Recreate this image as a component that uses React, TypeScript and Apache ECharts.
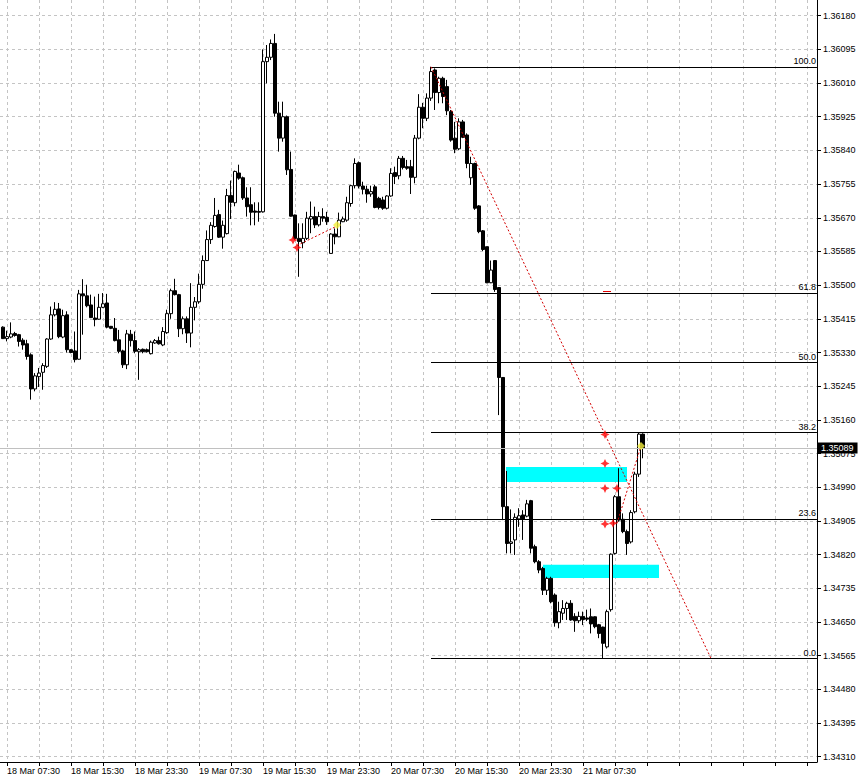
import React, { useEffect, useRef } from 'react';
import * as echarts from 'echarts';

// ---- data (bar index k: 0 = 18 Mar 07:30, one bar = 30 min) ----
const START_K = -1;
const OPEN = [
  1.35394, 1.35365, 1.35369, 1.35378, 1.35375, 1.35361, 1.35352, 1.35324, 1.35238, 1.35269,
  1.35280, 1.35295, 1.35364, 1.35425, 1.35440, 1.35369, 1.35425, 1.35337, 1.35334, 1.35313,
  1.35478, 1.35473, 1.35450, 1.35417, 1.35414, 1.35444, 1.35455, 1.35396, 1.35391, 1.35362,
  1.35334, 1.35299, 1.35376, 1.35360, 1.35332, 1.35338, 1.35337, 1.35327, 1.35354, 1.35360,
  1.35349, 1.35380, 1.35428, 1.35486, 1.35476, 1.35390, 1.35415, 1.35379, 1.35444, 1.35458,
  1.35502, 1.35562, 1.35615, 1.35648, 1.35678, 1.35621, 1.35630, 1.35726, 1.35708, 1.35783,
  1.35771, 1.35720, 1.35703, 1.35687, 1.35686, 1.35685, 1.36064, 1.36075, 1.36110, 1.35934,
  1.35871, 1.35925, 1.35792, 1.35677, 1.35618, 1.35607, 1.35618, 1.35667, 1.35673, 1.35652,
  1.35673, 1.35671, 1.35580, 1.35629, 1.35622, 1.35660, 1.35664, 1.35706, 1.35751, 1.35809,
  1.35750, 1.35742, 1.35730, 1.35748, 1.35719, 1.35715, 1.35694, 1.35725, 1.35784, 1.35776,
  1.35820, 1.35799, 1.35799, 1.35772, 1.35871, 1.35949, 1.35921, 1.35972, 1.36043, 1.35986,
  1.36022, 1.36001, 1.35938, 1.35871, 1.35844, 1.35912, 1.35879, 1.35771, 1.35807, 1.35700,
  1.35637, 1.35597, 1.35506, 1.35562, 1.35494, 1.35267, 1.34941, 1.34848, 1.34857, 1.34910,
  1.34920, 1.34917, 1.34956, 1.34840, 1.34802, 1.34785, 1.34730, 1.34760, 1.34718, 1.34648,
  1.34672, 1.34684, 1.34697, 1.34664, 1.34653, 1.34664, 1.34660, 1.34663, 1.34663, 1.34643,
  1.34637, 1.34587, 1.34681, 1.34823, 1.34966, 1.34909, 1.34878, 1.34852, 1.34928, 1.35023,
  1.35124,
];
const HIGH = [
  1.35396, 1.35385, 1.35406, 1.35382, 1.35377, 1.35366, 1.35362, 1.35328, 1.35278, 1.35291,
  1.35303, 1.35366, 1.35446, 1.35457, 1.35455, 1.35438, 1.35434, 1.35338, 1.35383, 1.35488,
  1.35515, 1.35501, 1.35476, 1.35471, 1.35478, 1.35480, 1.35478, 1.35397, 1.35417, 1.35387,
  1.35337, 1.35387, 1.35387, 1.35383, 1.35341, 1.35340, 1.35340, 1.35360, 1.35364, 1.35370,
  1.35394, 1.35438, 1.35491, 1.35516, 1.35478, 1.35421, 1.35421, 1.35505, 1.35470, 1.35529,
  1.35575, 1.35638, 1.35659, 1.35720, 1.35690, 1.35663, 1.35743, 1.35764, 1.35789, 1.35804,
  1.35774, 1.35747, 1.35747, 1.35709, 1.35709, 1.36095, 1.36106, 1.36120, 1.36134, 1.35963,
  1.35963, 1.35928, 1.35837, 1.35678, 1.35656, 1.35656, 1.35685, 1.35711, 1.35698, 1.35685,
  1.35694, 1.35685, 1.35631, 1.35643, 1.35683, 1.35673, 1.35723, 1.35753, 1.35820, 1.35812,
  1.35761, 1.35751, 1.35751, 1.35753, 1.35723, 1.35723, 1.35727, 1.35795, 1.35799, 1.35826,
  1.35826, 1.35816, 1.35816, 1.35879, 1.35982, 1.35960, 1.35984, 1.36051, 1.36047, 1.36026,
  1.36026, 1.36018, 1.35942, 1.35912, 1.35921, 1.35917, 1.35883, 1.35824, 1.35809, 1.35702,
  1.35639, 1.35597, 1.35562, 1.35563, 1.35495, 1.35268, 1.35031, 1.34934, 1.34924, 1.34937,
  1.34932, 1.34958, 1.34958, 1.34845, 1.34806, 1.34789, 1.34764, 1.34764, 1.34722, 1.34701,
  1.34705, 1.34701, 1.34705, 1.34672, 1.34676, 1.34676, 1.34681, 1.34684, 1.34664, 1.34645,
  1.34638, 1.34681, 1.34823, 1.34970, 1.35038, 1.34924, 1.34883, 1.34932, 1.35029, 1.35128,
  1.35126,
];
const LOW = [
  1.35364, 1.35358, 1.35366, 1.35370, 1.35345, 1.35337, 1.35312, 1.35211, 1.35232, 1.35243,
  1.35236, 1.35291, 1.35362, 1.35421, 1.35366, 1.35366, 1.35330, 1.35328, 1.35305, 1.35312,
  1.35375, 1.35444, 1.35417, 1.35396, 1.35413, 1.35442, 1.35391, 1.35389, 1.35358, 1.35328,
  1.35291, 1.35288, 1.35345, 1.35328, 1.35261, 1.35328, 1.35330, 1.35325, 1.35352, 1.35350,
  1.35346, 1.35377, 1.35415, 1.35474, 1.35369, 1.35376, 1.35354, 1.35343, 1.35411, 1.35453,
  1.35491, 1.35561, 1.35604, 1.35645, 1.35619, 1.35592, 1.35628, 1.35667, 1.35699, 1.35766,
  1.35715, 1.35673, 1.35651, 1.35651, 1.35660, 1.35683, 1.36009, 1.36068, 1.35925, 1.35837,
  1.35862, 1.35778, 1.35673, 1.35614, 1.35521, 1.35593, 1.35614, 1.35631, 1.35644, 1.35648,
  1.35660, 1.35652, 1.35580, 1.35603, 1.35621, 1.35659, 1.35660, 1.35698, 1.35744, 1.35744,
  1.35729, 1.35708, 1.35723, 1.35694, 1.35691, 1.35690, 1.35691, 1.35723, 1.35755, 1.35767,
  1.35792, 1.35791, 1.35730, 1.35757, 1.35868, 1.35896, 1.35914, 1.35965, 1.35942, 1.35959,
  1.35959, 1.35929, 1.35862, 1.35833, 1.35841, 1.35871, 1.35795, 1.35753, 1.35690, 1.35631,
  1.35586, 1.35505, 1.35505, 1.35483, 1.35172, 1.34907, 1.34823, 1.34823, 1.34819, 1.34890,
  1.34857, 1.34914, 1.34823, 1.34798, 1.34773, 1.34718, 1.34718, 1.34697, 1.34638, 1.34634,
  1.34655, 1.34655, 1.34653, 1.34625, 1.34647, 1.34642, 1.34652, 1.34621, 1.34634, 1.34609,
  1.34558, 1.34583, 1.34676, 1.34820, 1.34903, 1.34874, 1.34819, 1.34848, 1.34924, 1.35016,
  1.35063,
];
const CLOSE = [
  1.35365, 1.35370, 1.35377, 1.35373, 1.35358, 1.35349, 1.35320, 1.35238, 1.35271, 1.35278,
  1.35297, 1.35364, 1.35425, 1.35439, 1.35370, 1.35423, 1.35337, 1.35330, 1.35312, 1.35478,
  1.35473, 1.35448, 1.35418, 1.35413, 1.35444, 1.35453, 1.35394, 1.35391, 1.35360, 1.35333,
  1.35299, 1.35377, 1.35360, 1.35333, 1.35337, 1.35332, 1.35332, 1.35356, 1.35360, 1.35352,
  1.35383, 1.35428, 1.35486, 1.35476, 1.35390, 1.35415, 1.35379, 1.35444, 1.35458, 1.35502,
  1.35562, 1.35615, 1.35651, 1.35676, 1.35621, 1.35651, 1.35726, 1.35709, 1.35787, 1.35770,
  1.35720, 1.35698, 1.35684, 1.35684, 1.35684, 1.36064, 1.36075, 1.36110, 1.35934, 1.35871,
  1.35925, 1.35791, 1.35674, 1.35618, 1.35610, 1.35618, 1.35669, 1.35673, 1.35652, 1.35673,
  1.35669, 1.35660, 1.35629, 1.35622, 1.35664, 1.35667, 1.35708, 1.35751, 1.35807, 1.35750,
  1.35742, 1.35730, 1.35736, 1.35696, 1.35696, 1.35694, 1.35725, 1.35782, 1.35774, 1.35820,
  1.35797, 1.35795, 1.35772, 1.35871, 1.35949, 1.35921, 1.35972, 1.36039, 1.35986, 1.36022,
  1.35976, 1.35940, 1.35866, 1.35843, 1.35912, 1.35873, 1.35807, 1.35807, 1.35694, 1.35635,
  1.35590, 1.35506, 1.35538, 1.35489, 1.35267, 1.34941, 1.34848, 1.34852, 1.34914, 1.34918,
  1.34910, 1.34948, 1.34836, 1.34802, 1.34781, 1.34730, 1.34760, 1.34701, 1.34648, 1.34676,
  1.34684, 1.34697, 1.34655, 1.34653, 1.34664, 1.34656, 1.34657, 1.34645, 1.34638, 1.34621,
  1.34596, 1.34676, 1.34821, 1.34966, 1.34907, 1.34878, 1.34848, 1.34926, 1.35023, 1.35124,
  1.35089,
];

const TIME_LABELS = [
  '18 Mar 07:30', '18 Mar 15:30', '18 Mar 23:30', '19 Mar 07:30', '19 Mar 15:30',
  '19 Mar 23:30', '20 Mar 07:30', '20 Mar 15:30', '20 Mar 23:30', '21 Mar 07:30',
];
const BARS_PER_LABEL = 16;
const BARS_PER_GRID = 8;

// price scale ticks
const TICK_MIN = 1.3431;
const TICK_MAX = 1.3618;
const TICK_STEP = 0.00085;

// Fibonacci retracement
const FIB_HIGH = 1.36051;
const FIB_LOW = 1.34558;
const FIB_START_K = 106;
const FIB_END_K = 176;
const FIB_LEVELS = [0, 23.6, 38.2, 50, 61.8, 100];

const LAST_PRICE = 1.35089;

// cyan zones: [kFrom, kTo, priceTop, priceBottom]
const ZONES = [
  [124.75, 155, 1.35041, 1.35003],
  [134, 163, 1.34794, 1.34761],
];
const RED_MARKS = [
  [71.5, 1.35614], [72.5, 1.35595],
  [149.5, 1.35123], [149.5, 1.3505], [149.5, 1.34987], [152.5, 1.34987],
  [149.5, 1.34897], [151.5, 1.34899],
];
const YELLOW_MARKS = [[82.5, 1.35652], [158.5, 1.35094]];
const RED_SEGMENTS = [
  [[72.5, 1.356], [82.25, 1.35648]],
  [[152.5, 1.34899], [158.5, 1.35094]],
];
const RED_DASH = [[149, 1.35485], [151, 1.35485]];

// ---- view ----
const X_MIN = -1.75;
const X_MAX = 202.5;
const Y_MIN = 1.342965;
const Y_MAX = 1.362196;
const FONT = 'Liberation Sans';
const GRID_COLOR = '#c4c4c4';

export default function App() {
  const ref = useRef<HTMLDivElement>(null);
  useEffect(() => {
    document.body.style.margin = '0';
    const chart = echarts.init(ref.current!, undefined, { renderer: 'svg', width: 864, height: 780 });

    const candles = OPEN.map((o, i) => [START_K + i, o, CLOSE[i], LOW[i], HIGH[i]]);
    const xEdge = X_MAX - 0.01;

    const fibLines = FIB_LEVELS.map((lv) => {
      const price = FIB_LOW + (FIB_HIGH - FIB_LOW) * (lv / 100);
      return [
        {
          coord: [FIB_START_K, price],
          lineStyle: { color: '#000', type: 'solid', width: 1 },
          label: {
            show: true,
            position: 'insideEndTop',
            formatter: lv.toFixed(1),
            color: '#000',
            fontSize: 9,
            fontFamily: FONT,
            distance: [1, 1],
          },
        },
        { coord: [xEdge, price] },
      ];
    });

    const redSegs = RED_SEGMENTS.map((s) => [
      { coord: s[0], lineStyle: { color: '#d40000', type: [2, 2], width: 1 } },
      { coord: s[1] },
    ]);

    const option: any = {
      animation: false,
      backgroundColor: '#fff',
      grid: [
        // main plot (candles)
        { left: 0, right: 47, top: 0, bottom: 18 },
        // price grid lines / labels (tick 1.36180 .. 1.34310)
        { left: 0, right: 47, top: 15.7, bottom: 23.3 },
        // time grid lines / labels (starts at bar 0)
        { left: 7, right: 47, top: 0, bottom: 18 },
      ],
      xAxis: [
        {
          gridIndex: 0,
          type: 'value',
          min: X_MIN,
          max: X_MAX,
          axisLine: { show: true, onZero: false, lineStyle: { color: '#000', width: 1 } },
          axisTick: { show: false },
          axisLabel: { show: false },
          splitLine: { show: false },
        },
        { gridIndex: 1, type: 'value', show: false, min: 0, max: 1 },
        {
          gridIndex: 2,
          type: 'value',
          min: 0,
          max: X_MAX,
          interval: BARS_PER_GRID,
          axisLine: { show: false, onZero: false },
          axisTick: { show: true, length: 4, lineStyle: { color: '#000' } },
          axisLabel: {
            show: true,
            align: 'left',
            margin: 4,
            color: '#000',
            fontSize: 9,
            fontFamily: FONT,
            showMaxLabel: false,
            formatter: (v: number) => {
              const i = Math.round(v);
              if (i < 0 || i % BARS_PER_LABEL !== 0) return '';
              return TIME_LABELS[i / BARS_PER_LABEL] ?? '';
            },
          },
          splitLine: { show: true, lineStyle: { color: GRID_COLOR, type: [3, 3], width: 1 } },
        },
      ],
      yAxis: [
        {
          gridIndex: 0,
          type: 'value',
          position: 'right',
          min: Y_MIN,
          max: Y_MAX,
          axisLine: { show: true, onZero: false, lineStyle: { color: '#000', width: 1 } },
          axisTick: { show: false },
          axisLabel: { show: false },
          splitLine: { show: false },
        },
        {
          gridIndex: 1,
          type: 'value',
          position: 'right',
          min: TICK_MIN,
          max: TICK_MAX,
          interval: TICK_STEP,
          axisLine: { show: false, onZero: false },
          axisTick: { show: true, inside: false, length: 4, lineStyle: { color: '#000' } },
          axisLabel: {
            show: true,
            margin: 6,
            color: '#000',
            fontSize: 9,
            fontFamily: FONT,
            formatter: (v: number) => v.toFixed(5),
          },
          splitLine: { show: true, lineStyle: { color: GRID_COLOR, type: [3, 3], width: 1 } },
        },
        { gridIndex: 2, type: 'value', show: false, min: 0, max: 1 },
      ],
      series: [
        {
          type: 'candlestick',
          xAxisIndex: 0,
          yAxisIndex: 0,
          data: candles,
          barWidth: 3,
          silent: true,
          itemStyle: {
            color: '#fff',
            color0: '#000',
            borderColor: '#000',
            borderColor0: '#000',
            borderWidth: 1,
          },
          markArea: {
            silent: true,
            itemStyle: { color: '#00ffff', borderWidth: 0, opacity: 1 },
            label: { show: false },
            data: ZONES.map((z) => [{ coord: [z[0], z[2]] }, { coord: [z[1], z[3]] }]),
          },
          markLine: {
            silent: true,
            precision: 5,
            symbol: ['none', 'none'],
            label: { show: false },
            lineStyle: { color: '#000', type: 'solid', width: 1 },
            data: [
              {
                yAxis: LAST_PRICE,
                lineStyle: { color: '#c0c0c0', type: 'solid', width: 1 },
                label: {
                  show: true,
                  position: 'end',
                  formatter: LAST_PRICE.toFixed(5),
                  color: '#fff',
                  backgroundColor: '#000',
                  padding: [1, 4, 1, 3],
                  distance: 1,
                  fontSize: 9,
                  fontFamily: FONT,
                },
              },
              ...fibLines,
              [
                { coord: [FIB_START_K, FIB_HIGH], lineStyle: { color: '#d40000', type: [2, 2], width: 1 } },
                { coord: [FIB_END_K, FIB_LOW] },
              ],
              ...redSegs,
              [
                { coord: RED_DASH[0], lineStyle: { color: '#e00000', type: 'solid', width: 1 } },
                { coord: RED_DASH[1] },
              ],
            ],
          },
        },
        {
          type: 'scatter',
          xAxisIndex: 0,
          yAxisIndex: 0,
          silent: true,
          symbol: 'path://M5,0 L6.6,3.4 L10,5 L6.6,6.6 L5,10 L3.4,6.6 L0,5 L3.4,3.4 Z',
          symbolSize: 9,
          itemStyle: { color: '#ff0000' },
          data: RED_MARKS,
          z: 6,
        },
        {
          type: 'scatter',
          xAxisIndex: 0,
          yAxisIndex: 0,
          silent: true,
          symbol: 'diamond',
          symbolSize: 8,
          itemStyle: { color: '#f2ee3c' },
          data: YELLOW_MARKS,
          z: 6,
        },
      ],
    };

    chart.setOption(option);
    return () => chart.dispose();
  }, []);

  return (
    <div
      ref={ref}
      style={{ width: 864, height: 780, position: 'absolute', left: 0, top: 0, background: '#fff' }}
    />
  );
}
